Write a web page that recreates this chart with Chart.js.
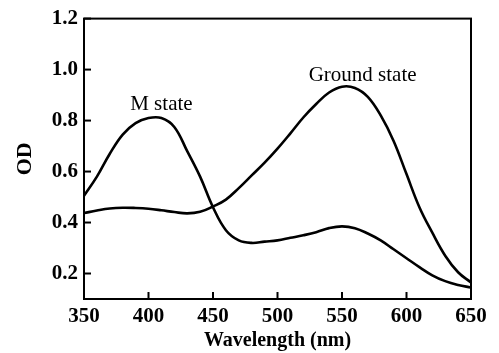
<!DOCTYPE html>
<html>
<head>
<meta charset="utf-8">
<script src="https://cdn.jsdelivr.net/npm/chart.js@4/dist/chart.umd.min.js"></script>
<style>
html,body{margin:0;padding:0;background:#fff;}
#wrap{width:499px;height:353px;}
</style>
</head>
<body>
<div id="wrap"><canvas id="c" width="499" height="353"></canvas></div>
<script>
const wavelengths = [350,360,370,380,390,400,410,420,430,440,450,460,470,480,490,500,510,520,530,540,550,560,570,580,590,600,610,620,630,640,650];
const mState = [0.505,0.58,0.67,0.745,0.79,0.81,0.81,0.775,0.68,0.58,0.46,0.37,0.33,0.32,0.325,0.33,0.34,0.35,0.362,0.378,0.385,0.378,0.357,0.33,0.295,0.26,0.225,0.193,0.17,0.155,0.145];
const groundState = [0.437,0.447,0.455,0.458,0.457,0.454,0.448,0.441,0.436,0.442,0.463,0.49,0.535,0.585,0.635,0.69,0.75,0.812,0.865,0.91,0.933,0.928,0.893,0.82,0.72,0.59,0.46,0.36,0.27,0.205,0.165];
const seriesNames = ['M state','Ground state'];
const xTicks = [350,400,450,500,550,600,650];
const yTicks = [0.2,0.4,0.6,0.8,1.0,1.2];
const axisTitles = ['Wavelength (nm)','OD'];

const toPts = (ys) => wavelengths.map((w,i)=>({x:w,y:ys[i]}));
const SERIF = '"Liberation Serif","Times New Roman",serif';

const framePlugin = {
  id:'frame',
  afterDraw(chart){
    const {ctx, chartArea:{left,right,top,bottom}, scales:{x,y}} = chart;
    ctx.save();
    ctx.strokeStyle='#000';
    ctx.lineWidth=2;
    ctx.strokeRect(left,top,right-left,bottom-top);
    x.ticks.forEach(t=>{
      const px=x.getPixelForValue(t.value);
      ctx.beginPath(); ctx.moveTo(px,bottom); ctx.lineTo(px,bottom-7); ctx.stroke();
    });
    y.ticks.forEach(t=>{
      const py=y.getPixelForValue(t.value);
      ctx.beginPath(); ctx.moveTo(left,py); ctx.lineTo(left+7,py); ctx.stroke();
    });
    ctx.fillStyle='#000';
    ctx.font='21px '+SERIF;
    ctx.textAlign='center';
    ctx.textBaseline='middle';
    ctx.fillText(chart.data.datasets[0].label, x.getPixelForValue(410), y.getPixelForValue(0.862));
    ctx.fillText(chart.data.datasets[1].label, x.getPixelForValue(566), y.getPixelForValue(0.977));
    ctx.restore();
  }
};

new Chart(document.getElementById('c'), {
  type:'line',
  data:{
    datasets:[
      {label:seriesNames[0], data:toPts(mState), borderColor:'#000', borderWidth:2.6, pointRadius:0, tension:0.4, fill:false},
      {label:seriesNames[1], data:toPts(groundState), borderColor:'#000', borderWidth:2.6, pointRadius:0, tension:0.4, fill:false}
    ]
  },
  options:{
    responsive:false,
    animation:false,
    devicePixelRatio:1,
    layout:{padding:{left:0,right:28,top:13,bottom:0}},
    plugins:{legend:{display:false},tooltip:{enabled:false}},
    scales:{
      x:{
        type:'linear', min:350, max:650,
        afterBuildTicks:(s)=>{s.ticks = xTicks.map(v=>({value:v}));},
        afterFit:(s)=>{s.height=54;},
        grid:{display:true, drawOnChartArea:false, drawTicks:false},
        border:{display:true, color:'#000', width:2},
        ticks:{color:'#000', font:{family:SERIF, size:21, weight:'bold'}, padding:5, maxRotation:0, autoSkip:false},
        title:{display:true, text:axisTitles[0], color:'#000', font:{family:SERIF, size:20, weight:'bold'}, padding:{top:0,bottom:0}}
      },
      y:{
        type:'linear', min:0.1, max:1.2,
        afterBuildTicks:(s)=>{s.ticks = yTicks.map(v=>({value:v}));},
        afterFit:(s)=>{s.width=84;},
        grid:{display:true, drawOnChartArea:false, drawTicks:false},
        border:{display:true, color:'#000', width:2},
        ticks:{color:'#000', font:{family:SERIF, size:21, weight:'bold'}, padding:6, autoSkip:false, callback:(v)=>Number(v).toFixed(1)},
        title:{display:true, text:axisTitles[1], color:'#000', font:{family:SERIF, size:22, weight:'bold'}, padding:{top:12,bottom:0}}
      }
    }
  },
  plugins:[framePlugin]
});
</script>
</body>
</html>
